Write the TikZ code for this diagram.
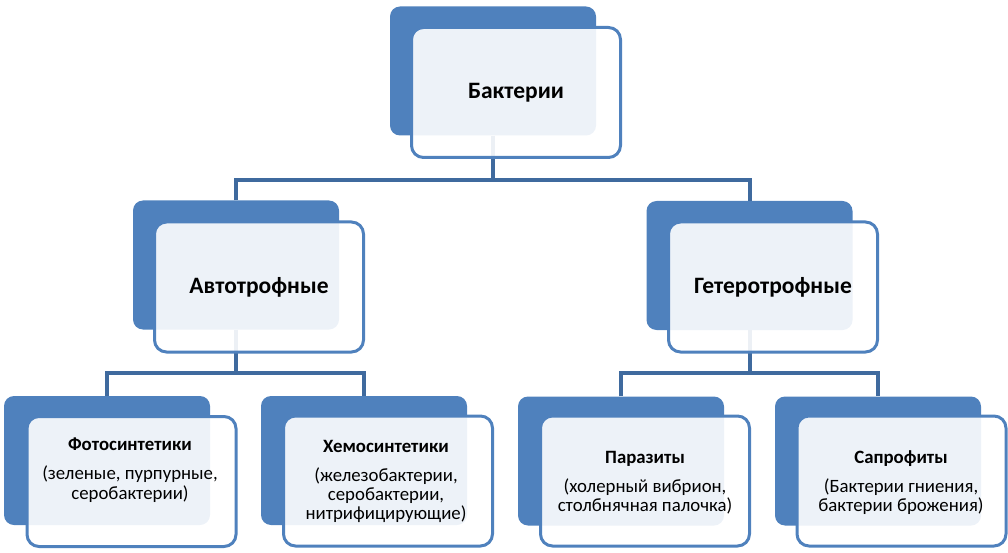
\documentclass[tikz,border=0pt]{standalone}
\usepackage{fontspec}
\setmainfont{Carlito}
\usepackage{xcolor}
\usepackage{tikz}
\definecolor{boxblue}{HTML}{4F81BD}
\definecolor{linkblue}{HTML}{3F6A9E}

\begin{document}
\begin{tikzpicture}[x=1pt,y=-1pt,
    back/.style={fill=boxblue,rounded corners=10pt,minimum width=206pt,minimum height=129pt,inner sep=0pt},
    front/.style={draw=boxblue,line width=3pt,fill=white,fill opacity=0.9,text opacity=1,rounded corners=12pt,minimum width=209pt,minimum height=130pt,inner sep=0pt},
    link/.style={draw=linkblue,line width=4pt},
    title/.style={font=\fontsize{23.5}{27}\selectfont\bfseries},
    lbl/.style={align=center,font=\fontsize{18.8}{19}\selectfont}]
    \useasboundingbox (0,0) rectangle (1008,553);
    % dark boxes behind
    \node[back] (bact-b) at (493,71) {};
    \node[back] (auto-b) at (236,265) {};
    \node[back] (het-b) at (749.5,265.5) {};
    \node[back] (photo-b) at (107,460.5) {};
    \node[back] (chemo-b) at (364,460.5) {};
    \node[back] (paras-b) at (621,461) {};
    \node[back] (sapro-b) at (878,461) {};
    % connectors
    \coordinate (j1) at (493,180);
    \coordinate (j2) at (236,372.5);
    \coordinate (j3) at (749.5,372.5);
    \draw[link] (bact-b.south) -- (j1);
    \draw[link] (auto-b.north) |- (j1) -| (het-b.north);
    \draw[link] (auto-b.south) -- (j2);
    \draw[link] (photo-b.north) |- (j2) -| (chemo-b.north);
    \draw[link] (het-b.south) -- (j3);
    \draw[link] (paras-b.north) |- (j3) -| (sapro-b.north);
    % light boxes in front
    \node[front,title] (bact) at (516,92.5) {Бактерии};
    \node[front,title] (auto) at (259,287) {Автотрофные};
    \node[front,title] (het) at (773,287) {Гетеротрофные};
    \node[front] (photo) at (131.5,481.5) {};
    \node[front] (chemo) at (388,481) {};
    \node[front] (paras) at (645,481) {};
    \node[front] (sapro) at (901.5,481) {};
    % texts of the lower boxes
    \node[lbl] (photo-t) at (130,470) {\textbf{Фотосинтетики}\\[10pt](зеленые, пурпурные,\\[1pt]серобактерии)};
    \node[lbl] (chemo-t) at (386,481) {\textbf{Хемосинтетики}\\[10pt](железобактерии,\\серобактерии,\\нитрифицирующие)};
    \node[lbl] (paras-t) at (645,483) {\textbf{Паразиты}\\[10pt](холерный вибрион,\\столбнячная палочка)};
    \node[lbl] (sapro-t) at (901,483) {\textbf{Сапрофиты}\\[10pt](Бактерии гниения,\\бактерии брожения)};
\end{tikzpicture}
\end{document}
